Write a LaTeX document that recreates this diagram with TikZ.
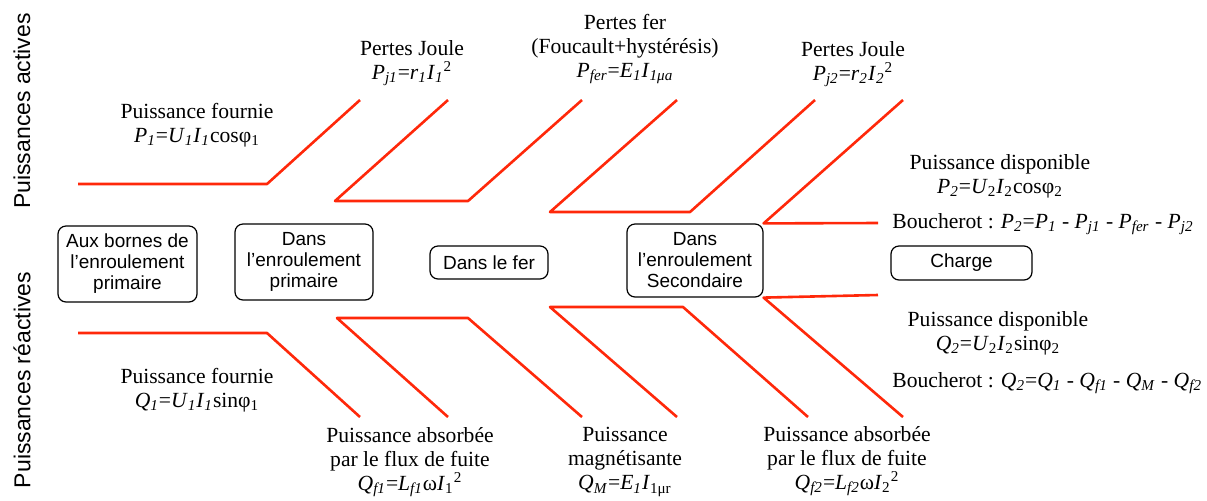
\documentclass[tikz,border=0pt]{standalone}
\usepackage{fontspec}
\setmainfont{Liberation Serif}
\setsansfont{Liberation Sans}
\definecolor{fishred}{RGB}{255,40,10}
\newcommand{\sy}[2]{\textit{#1}\textsubscript{\textit{#2}}}
\newcommand{\sqr}[1]{\textsubscript{#1}\textsuperscript{2}}
\begin{document}
\begin{tikzpicture}[x=0.5pt,y=-0.5pt,
  branch/.style={fishred, line width=1.3pt, line join=round},
  zone/.style={draw, line width=0.6pt, rounded corners=4pt, align=center, inner sep=0pt,
    font=\sffamily\fontsize{9.5}{10.5}\selectfont},
  txt/.style={align=center, inner sep=0pt, font=\fontsize{10.8}{12}\selectfont},
  axis/.style={rotate=90, font=\sffamily\fontsize{11.5}{13}\selectfont}]
\useasboundingbox (0,0) rectangle (1207,500);
\node[axis] (act) at (22,111) {Puissances actives};
\node[axis] (react) at (22,380) {Puissances réactives};
\node[zone, minimum width=69.5pt, minimum height=38pt] (bornes) at (127.5,264) {Aux bornes de\\l'enroulement\\primaire};
\node[zone, minimum width=69pt, minimum height=38pt] (prim) at (304,262) {Dans\\l'enroulement\\primaire};
\node[zone, minimum width=59pt, minimum height=16.5pt] (fer) at (489,262.5) {Dans le fer};
\node[zone, minimum width=68pt, minimum height=36.5pt] (sec) at (695,260.5) {Dans\\l'enroulement\\Secondaire};
\node[zone, minimum width=70.5pt, minimum height=17pt] (charge) at (961.5,263) {Charge};
\draw[branch] (78,184) -- (267,184) -- (360,100);
\draw[branch] (448,100) -- (335,201) -- (468,201) -- (582,100);
\draw[branch] (677,100) -- (550,212) -- (690,212) -- (815,100);
\draw[branch] (903,100) -- (sec.north east) -- (878,223);
\draw[branch] (78,333) -- (267,333) -- (360,417);
\draw[branch] (448,417) -- (337,318) -- (468,318) -- (582,417);
\draw[branch] (677,417) -- (550,307) -- (683,307) -- (808,417);
\draw[branch] (903,417) -- (sec.south east) -- (878,295);
\node[txt] (pfour) at (197,125) {Puissance fournie\\ \sy{P}{1}=\sy{U}{1}\sy{I}{1}cosφ\textsubscript{1}};
\node[txt] (pj1) at (412,63) {Pertes Joule\\ \sy{P}{j1}=\sy{r}{1}\textit{I}\sqr{\textit{1}}};
\node[txt] (pfer) at (625,49) {Pertes fer\\(Foucault+hystérésis)\\ \sy{P}{fer}=\sy{E}{1}\sy{I}{1μa}};
\node[txt] (pj2) at (853,64) {Pertes Joule\\ \sy{P}{j2}=\sy{r}{2}\textit{I}\sqr{\textit{2}}};
\node[txt] (pdisp) at (1000,176) {Puissance disponible\\ \sy{P}{2}=\textit{U}\textsubscript{2}\textit{I}\textsubscript{2}cosφ\textsubscript{2}};
\node[txt, anchor=west] (pbouch) at (892,224) {Boucherot : \sy{P}{2}=\sy{P}{1} - \sy{P}{j1} - \sy{P}{fer} - \sy{P}{j2}};
\node[txt] (qfour) at (197,390) {Puissance fournie\\ \sy{Q}{1}=\sy{U}{1}\sy{I}{1}sinφ\textsubscript{1}};
\node[txt] (qf1) at (410,462) {Puissance absorbée\\par le flux de fuite\\ \sy{Q}{f1}=\sy{L}{f1}ω\textit{I}\sqr{1}};
\node[txt] (qm) at (625,462) {Puissance\\magnétisante\\ \sy{Q}{M}=\sy{E}{1}\textit{I}\textsubscript{1μr}};
\node[txt] (qf2) at (847,461) {Puissance absorbée\\par le flux de fuite\\ \sy{Q}{f2}=\sy{L}{f2}ω\textit{I}\sqr{2}};
\node[txt] (qdisp) at (998,333) {Puissance disponible\\ \sy{Q}{2}=\textit{U}\textsubscript{2}\textit{I}\textsubscript{2}sinφ\textsubscript{2}};
\node[txt, anchor=west] (qbouch) at (892,383) {Boucherot : \sy{Q}{2}=\sy{Q}{1} - \sy{Q}{f1} - \sy{Q}{M} - \sy{Q}{f2}};
\end{tikzpicture}
\end{document}
